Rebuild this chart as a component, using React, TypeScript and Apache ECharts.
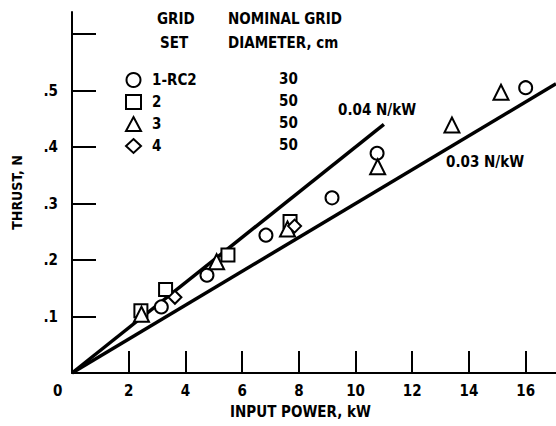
import React, { useEffect, useRef } from "react";
import * as echarts from "echarts";

const FONT = '"DejaVu Sans Condensed", "DejaVu Sans", sans-serif';
const FS = 15;

const gridSets = ["1-RC2", "2", "3", "4"];
const diameters = ["30", "50", "50", "50"];
const symbols = ["circle", "rect", "triangle", "diamond"];

const set1: number[][] = [[3.15, 0.117], [4.76, 0.173], [6.84, 0.244], [9.17, 0.31], [10.76, 0.389], [16.0, 0.505]];
const set2: number[][] = [[2.43, 0.11], [3.3, 0.148], [5.5, 0.209], [7.69, 0.268]];
const set3: number[][] = [[2.45, 0.104], [5.1, 0.197], [7.6, 0.255], [10.78, 0.365], [13.4, 0.439], [15.13, 0.497]];
const set4: number[][] = [[3.63, 0.134], [7.85, 0.26]];
const setData = [set1, set2, set3, set4];

const line04: number[][] = [[0, 0], [11, 0.44]];
const line03: number[][] = [[0, 0], [17.07, 0.512]];

const xTicks = [2, 4, 6, 8, 10, 12, 14, 16];
const yTicks = [0.1, 0.2, 0.3, 0.4, 0.5];

export default function App() {
  const ref = useRef<HTMLDivElement>(null);
  useEffect(() => {
    if (!ref.current) return;
    const chart = echarts.init(ref.current, undefined, { renderer: "svg" });
    const txt = { fontFamily: FONT, fontSize: FS, fontWeight: "bold" as const, color: "#000" };
    const f = `bold ${FS}px ${FONT}`;
    const scatter = setData.map((d, i) => ({
      type: "scatter",
      name: gridSets[i],
      data: d,
      symbol: symbols[i],
      symbolSize: i === 2 ? 15 : 13,
      itemStyle: { color: "#fff", borderColor: "#000", borderWidth: 2, opacity: 1 },
      z: 5,
    }));
    chart.setOption({
      animation: false,
      backgroundColor: "#fff",
      grid: { left: 72, top: 12, right: 0, bottom: 53 },
      xAxis: {
        type: "value",
        min: 0,
        max: 17.07,
        interval: 2,
        splitLine: { show: false },
        axisLine: { lineStyle: { color: "#000", width: 2 } },
        axisTick: { inside: true, length: 22, lineStyle: { color: "#000", width: 2 } },
        axisLabel: {
          ...txt,
          margin: 10,
          showMaxLabel: false,
          formatter: (v: number) => (xTicks.includes(Math.round(v)) && Math.abs(v - Math.round(v)) < 1e-6 ? String(v) : ""),
        },
      },
      yAxis: {
        type: "value",
        min: 0,
        max: 0.639,
        interval: 0.1,
        name: "THRUST, N",
        nameLocation: "middle",
        nameGap: 48,
        nameRotate: 90,
        nameTextStyle: { ...txt, fontSize: 14 },
        splitLine: { show: false },
        axisLine: { show: true, lineStyle: { color: "#000", width: 2 } },
        axisTick: { show: true, inside: true, length: 24, lineStyle: { color: "#000", width: 2 } },
        axisLabel: {
          ...txt,
          margin: 14,
          showMaxLabel: false,
          formatter: (v: number) => {
            const t = yTicks.find((y) => Math.abs(y - v) < 1e-6);
            return t ? "." + Math.round(t * 10) : "";
          },
        },
      },
      legend: {
        orient: "vertical",
        left: 120,
        top: 67,
        itemWidth: 15,
        itemHeight: 14,
        itemGap: 6,
        data: gridSets,
        textStyle: { ...txt, lineHeight: 14, padding: [0, 0, 0, 6] },
        selectedMode: false,
      },
      graphic: [
        { type: "text", left: 157, top: 11, style: { text: "GRID", font: f, fill: "#000" } },
        { type: "text", left: 160, top: 35, style: { text: "SET", font: f, fill: "#000" } },
        { type: "text", left: 228, top: 11, style: { text: "NOMINAL GRID", font: f, fill: "#000" } },
        { type: "text", left: 228, top: 35, style: { text: "DIAMETER, cm", font: f, fill: "#000" } },
        ...diameters.map((d, i) => ({
          type: "text",
          left: 279,
          top: 71 + i * 22,
          style: { text: d, font: f, fill: "#000" },
        })),
        { type: "text", left: 338, top: 102, style: { text: "0.04 N/kW", font: f, fill: "#000" } },
        { type: "text", left: 446, top: 154, style: { text: "0.03 N/kW", font: f, fill: "#000" } },
        { type: "text", left: 53, top: 383, style: { text: "0", font: f, fill: "#000" } },
        { type: "text", left: 230, top: 404, style: { text: "INPUT POWER, kW", font: f, fill: "#000" } },
      ],
      series: [
        { type: "line", data: line04, symbol: "none", lineStyle: { color: "#000", width: 3.5 }, z: 3, silent: true },
        { type: "line", data: line03, symbol: "none", lineStyle: { color: "#000", width: 3.5 }, z: 3, silent: true },
        ...scatter,
      ],
    });
    return () => chart.dispose();
  }, []);
  return <div ref={ref} style={{ position: "absolute", left: 0, top: 0, width: 556, height: 426 }} />;
}
